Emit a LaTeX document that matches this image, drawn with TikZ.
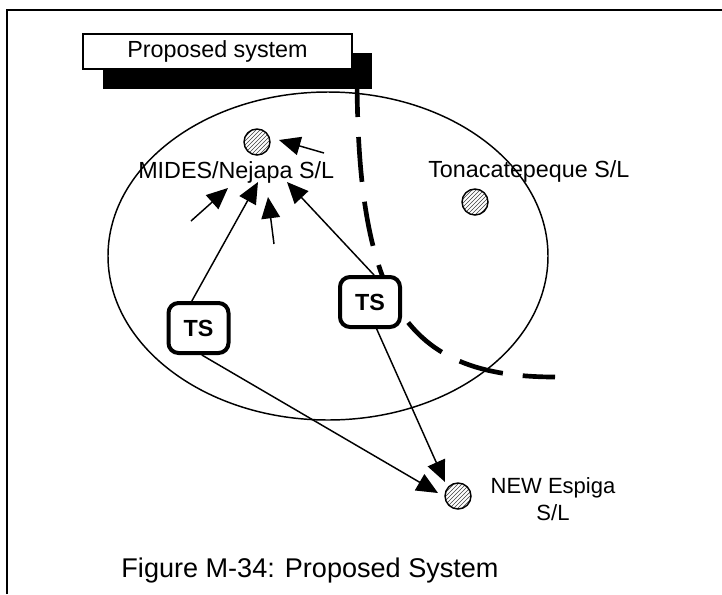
\documentclass[tikz,border=0pt]{standalone}
\usepackage{fontspec}
\setmainfont{Liberation Sans}
\usetikzlibrary{arrows.meta,patterns}
\begin{document}
\begin{tikzpicture}[x=0.75pt,y=-0.75pt,
  lbl/.style={font=\fontsize{17.5}{20}\selectfont, inner sep=0pt},
  station/.style={circle, draw, line width=1.1pt, minimum size=19.5pt, inner sep=0pt, pattern=north east lines, pattern color=black!75},
  tsbox/.style={draw, line width=3pt, rounded corners=7.5pt, fill=white, minimum width=45pt, minimum height=37.5pt, inner sep=0pt, font=\fontsize{17.5}{20}\selectfont\bfseries},
  arr/.style={line width=1.1pt, -{Triangle[length=16pt,width=14pt]}},
  boundary/.style={line width=3.5pt, dash pattern=on 33.75pt off 15pt},
  thinline/.style={line width=1.1pt}
]
\useasboundingbox (0,0) rectangle (722,594);

% frame
\draw[line width=1.5pt] (7,594) -- (7,10) -- (722,10);

% service area ellipse
\draw[thinline] (328,256) ellipse [x radius=165pt, y radius=123pt];

% dashed boundary
\coordinate (dcA) at (357,72);
\coordinate (dcB) at (555,377);
\draw[boundary] (dcA) .. controls (357,302) and (405,377) .. (dcB);

% title boxes
\node[fill=black, minimum width=201.75pt, minimum height=27pt, inner sep=0pt] (shadow) at (237.5,71) {};
\node[draw, line width=1.1pt, fill=white, minimum width=201.75pt, minimum height=26.25pt, inner sep=0pt, font=\fontsize{17.5}{20}\selectfont] (title) at (217.5,51.5) {Proposed system};

% stations
\node[station] (mides) at (257,142) {};
\node[station] (tona) at (475,202) {};
\node[station] (espiga) at (458,496) {};

% labels
\node[lbl, anchor=base west] (mideslbl) at (138,178) {MIDES/Nejapa S/L};
\node[lbl, anchor=base west] (tonalbl) at (428,177) {Tonacatepeque S/L};
\node[font=\fontsize{16.5}{20.25}\selectfont, align=center, inner sep=0pt] (espigalbl) at (553,499) {NEW Espiga\\S/L};

% arrow end points
\coordinate (tipA) at (258,182);
\coordinate (tipB) at (287,182);
\coordinate (tipC) at (438,493);
\coordinate (tipD) at (445,482);
\coordinate (tail1) at (324,153);
\coordinate (tip1) at (279,140);
\coordinate (tail2) at (191,221);
\coordinate (tip2) at (228,188);
\coordinate (tail3) at (274,244);
\coordinate (tip3) at (268,197);

% TS boxes
\node[tsbox] (ts1) at (198.5,328) {TS};
\node[tsbox] (ts2) at (370,302) {TS};

% connectors
\draw[arr] ([xshift=-5pt]ts1.north) -- (tipA);
\draw[arr] ([xshift=3pt]ts2.north) -- (tipB);
\draw[arr] ([xshift=2.5pt]ts1.south) -- (tipC);
\draw[arr] ([xshift=5pt]ts2.south) -- (tipD);
\draw[arr] (tail1) -- (tip1);
\draw[arr] (tail2) -- (tip2);
\draw[arr] (tail3) -- (tip3);

% caption
\node[font=\fontsize{20.3}{24}\selectfont, anchor=base, inner sep=0pt] (caption) at (310,577) {Figure M-34: Proposed System};
\end{tikzpicture}
\end{document}
